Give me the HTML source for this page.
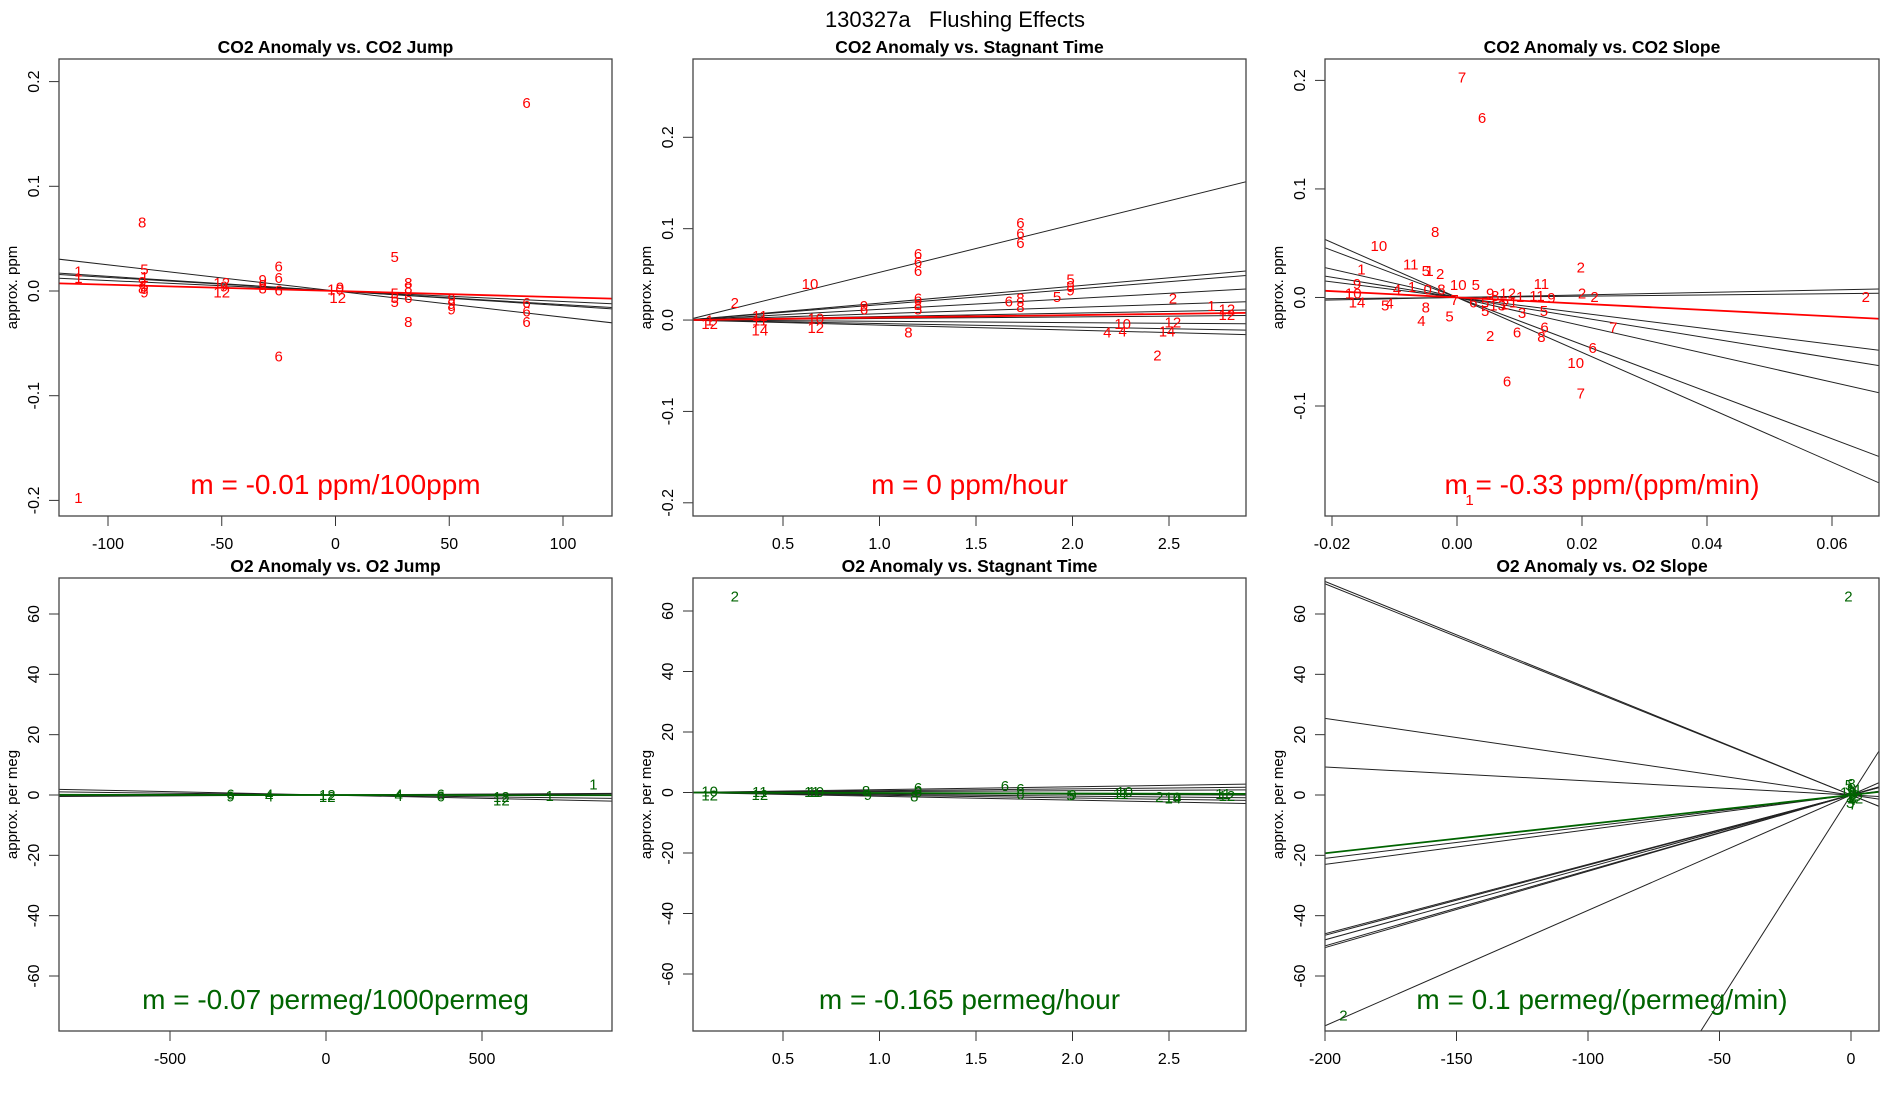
<!DOCTYPE html>
<html><head><meta charset="utf-8"><style>
html,body{margin:0;padding:0;background:#fff;width:1900px;height:1100px;overflow:hidden;}
svg{display:block;font-family:"Liberation Sans",sans-serif;}
</style></head><body>
<svg id="chart" width="1900" height="1100" viewBox="0 0 1900 1100">
<text x="955" y="27" font-size="22" text-anchor="middle" style="white-space:pre" xml:space="preserve">130327a   Flushing Effects</text>
</svg>
<script>
// ---------- Panel 1: CO2 Anomaly vs CO2 Jump ----------
const p1X = [84,-85,26,-113,-113,-113,-84,-84,-85,-84,-85,-84,-25,-25,-25,-25,-50,-50,-49,-32,-32,-32,0,1,2,26,26,26,32,32,32,32,51,51,51,84,84,84];
const p1Y = [0.18,0.066,0.033,-0.197,0.019,0.013,0.021,0.014,0.009,0.005,0.003,-0.001,0.024,0.013,0.001,-0.062,0.008,-0.001,0.005,0.011,0.006,0.003,0.002,-0.006,0.004,-0.002,-0.006,-0.01,0.008,0.003,-0.006,-0.029,-0.007,-0.012,-0.017,-0.011,-0.019,-0.029];
const p1Lab = ["6","8","5","1","1","1","5","1","9","5","8","9","6","6","6","6","12","12","9","9","9","8","10","12","9","5","5","5","8","8","6","8","9","9","9","6","6","6"];
const p1Slopes = [-0.00025,-0.00014,-0.00013,-0.0001,-0.00006];
const p1RedSlope = [-0.00006];
// ---------- Panel 2: CO2 Anomaly vs Stagnant Time ----------
const p2X = [1.73,1.73,1.73,1.2,1.2,1.2,0.64,0.25,1.99,1.99,1.99,1.92,1.73,1.67,1.73,2.52,2.72,2.8,2.8,0.92,0.92,1.2,1.2,1.2,0.12,0.12,0.38,0.38,0.38,0.67,0.67,1.15,2.18,2.26,2.26,2.49,2.52,2.44];
const p2Y = [0.107,0.095,0.085,0.073,0.064,0.054,0.04,0.019,0.045,0.038,0.033,0.026,0.024,0.021,0.015,0.024,0.016,0.012,0.006,0.016,0.012,0.024,0.017,0.012,0.0,-0.004,0.005,0.0,-0.011,0.002,-0.008,-0.013,-0.013,-0.004,-0.012,-0.012,-0.002,-0.038];
const p2Lab = ["6","6","6","6","6","6","10","2","5","9","9","5","8","6","8","2","1","12","12","9","6","6","8","5","1","12","11","11","14","10","12","8","4","10","4","14","12","2"];
const p2Slopes = [0.0522,0.0185,0.0168,0.0117,0.0069,0.0038,0.0017,-0.0014,-0.0038,-0.0055];
const p2RedSlope = [0.0027];
// ---------- Panel 3: CO2 Anomaly vs CO2 Slope ----------
const p3X = [0.0008,0.004,-0.0035,-0.0125,-0.0074,-0.005,-0.0044,-0.0027,-0.0153,-0.016,-0.0166,-0.016,-0.0115,-0.0108,0.0198,0.0135,0.02,0.022,0.0654,0.025,0.0217,0.019,0.0198,0.008,0.0053,0.0096,0.0135,0.014,0.002,-0.0057,-0.005,-0.0012,0.0045,0.0104,0.0139,-0.0096,-0.0072,-0.0047,-0.0025,0.0002,0.003,0.0053,0.0061,0.0081,0.0101,0.0128,0.0151,-0.0004,0.0026,0.0045,0.0065,0.0077,0.009];
const p3Y = [0.203,0.166,0.061,0.048,0.031,0.025,0.025,0.022,0.026,0.013,0.004,-0.004,-0.007,-0.005,0.028,0.013,0.004,0.001,0.001,-0.027,-0.046,-0.06,-0.088,-0.077,-0.035,-0.032,-0.036,-0.027,-0.186,-0.021,-0.009,-0.017,-0.012,-0.014,-0.012,0.008,0.01,0.008,0.008,0.012,0.012,0.004,0.002,0.004,0.001,0.002,0.0,-0.002,-0.004,-0.004,-0.007,-0.006,-0.004];
const p3Lab = ["7","6","8","10","11","5","1","2","1","9","10","14","5","4","2","11","2","2","2","7","6","10","7","6","2","6","8","6","1","4","8","5","5","3","5","4","1","0","8","10","5","9","8","12","1","11","9","7","6","5","13","2","1"];
const p3Slopes = [0.116,0.058,-0.72,-0.93,-1.3,-2.17,-2.53];
const p3RedSlope = [-0.29];
// ---------- Panel 4: O2 Anomaly vs O2 Jump ----------
const p4X = [857,-306,-306,-182,-182,4,4,233,233,368,368,562,562,717];
const p4Y = [3.6,-0.4,0.4,-0.4,0.3,0.2,-0.5,-0.2,0.3,0.4,-0.3,-1.6,-0.5,-0.2];
const p4Lab = ["1","9","6","4","4","12","12","4","4","6","6","12","12","1"];
const p4Slopes = [-0.0022,-0.0012,0.0004,0.0006];
const p4GreenSlope = [-0.00007];
// ---------- Panel 5: O2 Anomaly vs Stagnant Time ----------
const p5X = [0.25,0.12,0.12,0.38,0.38,0.65,0.67,0.93,0.94,1.18,1.2,1.2,1.65,1.73,1.73,1.99,2.0,2.25,2.27,2.45,2.52,2.52,2.78,2.8];
const p5Y = [65,0.5,-0.8,0.4,-0.6,0.4,0.3,0.6,-0.6,-1.1,0.4,1.7,2.3,1.4,-0.5,-0.8,-0.6,-0.3,0.3,-1.3,-1.5,-1.9,-0.3,-1.0];
const p5Lab = ["2","10","12","11","12","11","10","8","9","8","6","6","6","6","6","5","9","11","10","2","10","14","11","12"];
const p5Slopes = [0.95,0.6,0.3,-0.3,-0.6,-0.9,-1.25];
const p5GreenSlope = [-0.165];
// ---------- Panel 6: O2 Anomaly vs O2 Slope ----------
const p6X = [-1,-193,-0.8,0.2,1.0,-0.5,0.5,1.5,-1.0,0.0,1.2,-0.3,0.8,2.0];
const p6Y = [66,-73,3.5,3.8,0.5,-0.5,-1.5,-1.0,1.0,1.5,2.0,-2.5,-3.0,0.0];
const p6Lab = ["2","2","5","8","6","1","4","12","10","9","11","3","7","2"];
const p6Slopes = [-0.354,-0.127,-0.0465,0.105,0.115,0.23,0.2325,0.24,0.253,0.3825,1.37,0.25,-0.35];
const p6GreenSlope = [0.0965];

const NS = "http://www.w3.org/2000/svg";
const svg = document.getElementById("chart");
function mk(tag, attrs, parent){
  const e = document.createElementNS(NS, tag);
  for (const k in attrs) e.setAttribute(k, attrs[k]);
  (parent||svg).appendChild(e);
  return e;
}
function lin(d0, d1, r0, r1){ return v => r0 + (v - d0) * (r1 - r0) / (d1 - d0); }

let clipN = 0;
function panel(cfg){
  const g = mk("g", {});
  
  
  const b = cfg.box, sx = cfg.sx, sy = cfg.sy;
  const id = "clip" + (clipN++);
  const cp = mk("clipPath", {id:id}, g);
  mk("rect", {x:b.l, y:b.t, width:b.r-b.l, height:b.b-b.t}, cp);
  const t = mk("text", {x:(b.l+b.r)/2, y:b.t-6, "font-size":"17.5", "font-weight":"bold", "text-anchor":"middle"}, g);
  t.textContent = cfg.title;
  
  
  const yl = mk("text", {x:b.l-42, y:(b.t+b.b)/2, "font-size":"15", "text-anchor":"middle", transform:"rotate(-90 "+(b.l-42)+" "+((b.t+b.b)/2)+")"}, g);
  yl.textContent = cfg.ylab;
  
  
  cfg.xt.forEach((v,i)=>{
    const x = sx(v);
    mk("line", {x1:x, x2:x, y1:b.b, y2:b.b+10, stroke:"#333", "stroke-width":"1"}, g);
    const tx = mk("text", {x:x, y:b.b+33, "font-size":"16", "text-anchor":"middle"}, g);
    tx.textContent = cfg.xtl[i];
    
    
  });
  cfg.yt.forEach((v,i)=>{
    const y = sy(v);
    mk("line", {x1:b.l-10, x2:b.l, y1:y, y2:y, stroke:"#333", "stroke-width":"1"}, g);
    const ty = mk("text", {x:b.l-20, y:y, "font-size":"16", "text-anchor":"middle", transform:"rotate(-90 "+(b.l-20)+" "+y+")"}, g);
    ty.textContent = cfg.ytl[i];
    
    
  });
  const inner = mk("g", {"clip-path":"url(#"+id+")"}, g);
  const xa = cfg.xr[0], xb = cfg.xr[1];
  cfg.slopes.forEach(m=>{
    const ln = mk("line", {x1:sx(xa), y1:sy(m*xa), x2:sx(xb), y2:sy(m*xb), stroke:"#222", "stroke-width":"1"}, inner);
    
    
  });
  cfg.main.forEach(m=>{
    const ln = mk("line", {x1:sx(xa), y1:sy(m*xa), x2:sx(xb), y2:sy(m*xb), stroke:cfg.color, "stroke-width":"1.8"}, inner);
    
    
  });
  cfg.px.forEach((v,i)=>{
    const p = mk("text", {x:sx(v), y:sy(cfg.py[i])+5.5, "font-size":"15", fill:cfg.color, "text-anchor":"middle"}, inner);
    p.textContent = cfg.pl[i];
    
    
  });
  const st = mk("text", {x:(b.l+b.r)/2, y:b.b-22, "font-size":"28", fill:cfg.color, "text-anchor":"middle"}, g);
  st.textContent = cfg.slopeText;
  
  
  mk("rect", {x:b.l, y:b.t, width:b.r-b.l, height:b.b-b.t, fill:"none", stroke:"#444", "stroke-width":"1.3"}, g);
}

const R1 = {t:59, b:516}, R2 = {t:578, b:1031};
const C1 = {l:59, r:612}, C2 = {l:693, r:1246}, C3 = {l:1325, r:1879};
const RED = "#ff0000", GRN = "#006400";

const s1x = lin(-100,100,108,563), s2x = lin(0.5,2.5,783,1169), s3x = lin(-0.02,0.06,1332,1832);
panel({name:"panel-co2-jump", box:{l:C1.l,r:C1.r,t:R1.t,b:R1.b}, sx:s1x, sy:lin(-0.2,0.2,500.4,81.6),
  title:"CO2 Anomaly vs. CO2 Jump", ylab:"approx. ppm", xt:[-100,-50,0,50,100], xtl:["-100","-50","0","50","100"],
  yt:[-0.2,-0.1,0,0.1,0.2], ytl:["-0.2","-0.1","0.0","0.1","0.2"], xr:[-125,125],
  slopes:p1Slopes, main:p1RedSlope, color:RED, px:p1X, py:p1Y, pl:p1Lab, slopeText:"m = -0.01 ppm/100ppm"});
panel({name:"panel-co2-stagnant", box:{l:C2.l,r:C2.r,t:R1.t,b:R1.b}, sx:s2x, sy:lin(-0.2,0.2,502.8,137.3),
  title:"CO2 Anomaly vs. Stagnant Time", ylab:"approx. ppm", xt:[0.5,1,1.5,2,2.5], xtl:["0.5","1.0","1.5","2.0","2.5"],
  yt:[-0.2,-0.1,0,0.1,0.2], ytl:["-0.2","-0.1","0.0","0.1","0.2"], xr:[0.031,2.95],
  slopes:p2Slopes, main:p2RedSlope, color:RED, px:p2X, py:p2Y, pl:p2Lab, slopeText:"m = 0 ppm/hour"});
panel({name:"panel-co2-slope", box:{l:C3.l,r:C3.r,t:R1.t,b:R1.b}, sx:s3x, sy:lin(-0.1,0.2,406,80.4),
  title:"CO2 Anomaly vs. CO2 Slope", ylab:"approx. ppm", xt:[-0.02,0,0.02,0.04,0.06], xtl:["-0.02","0.00","0.02","0.04","0.06"],
  yt:[-0.1,0,0.1,0.2], ytl:["-0.1","0.0","0.1","0.2"], xr:[-0.022,0.07],
  slopes:p3Slopes, main:p3RedSlope, color:RED, px:p3X, py:p3Y, pl:p3Lab, slopeText:"m = -0.33 ppm/(ppm/min)"});
panel({name:"panel-o2-jump", box:{l:C1.l,r:C1.r,t:R2.t,b:R2.b}, sx:lin(-500,500,170,482), sy:lin(-60,60,976,614),
  title:"O2 Anomaly vs. O2 Jump", ylab:"approx. per meg", xt:[-500,0,500], xtl:["-500","0","500"],
  yt:[-60,-40,-20,0,20,40,60], ytl:["-60","-40","-20","0","20","40","60"], xr:[-900,950],
  slopes:p4Slopes, main:p4GreenSlope, color:GRN, px:p4X, py:p4Y, pl:p4Lab, slopeText:"m = -0.07 permeg/1000permeg"});
panel({name:"panel-o2-stagnant", box:{l:C2.l,r:C2.r,t:R2.t,b:R2.b}, sx:s2x, sy:lin(-60,60,974,611),
  title:"O2 Anomaly vs. Stagnant Time", ylab:"approx. per meg", xt:[0.5,1,1.5,2,2.5], xtl:["0.5","1.0","1.5","2.0","2.5"],
  yt:[-60,-40,-20,0,20,40,60], ytl:["-60","-40","-20","0","20","40","60"], xr:[0.031,2.95],
  slopes:p5Slopes, main:p5GreenSlope, color:GRN, px:p5X, py:p5Y, pl:p5Lab, slopeText:"m = -0.165 permeg/hour"});
panel({name:"panel-o2-slope", box:{l:C3.l,r:C3.r,t:R2.t,b:R2.b}, sx:lin(-200,0,1325,1851), sy:lin(-60,60,976,614),
  title:"O2 Anomaly vs. O2 Slope", ylab:"approx. per meg", xt:[-200,-150,-100,-50,0], xtl:["-200","-150","-100","-50","0"],
  yt:[-60,-40,-20,0,20,40,60], ytl:["-60","-40","-20","0","20","40","60"], xr:[-205,12],
  slopes:p6Slopes, main:p6GreenSlope, color:GRN, px:p6X, py:p6Y, pl:p6Lab, slopeText:"m = 0.1 permeg/(permeg/min)"});
</script>
</body></html>
